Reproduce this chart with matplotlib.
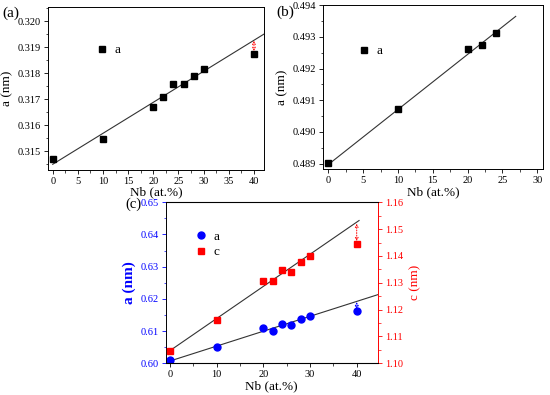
import matplotlib
matplotlib.use("Agg")
import matplotlib.pyplot as plt
from matplotlib.ticker import MultipleLocator, AutoMinorLocator, FormatStrFormatter

plt.rcParams['font.family'] = ['Liberation Serif', 'DejaVu Serif']

# ---- Panel (a) data ----
a_nb = [0, 10, 20, 22, 24, 26, 28, 30, 40]
a_lat = [0.31468, 0.31545, 0.31669, 0.31706, 0.31756, 0.31757, 0.31789, 0.31815, 0.31873]
a_fit_x = [0, 42]
a_fit_y = [0.31449, 0.31950]
a_arrow = (40, 0.31924, 0.31885)

# ---- Panel (b) data ----
b_nb = [0, 10, 20, 22, 24]
b_lat = [0.48902, 0.49074, 0.49263, 0.49274, 0.49313]
b_fit_x = [0, 26.9]
b_fit_y = [0.48897, 0.49365]

# ---- Panel (c) data ----
c_nb = [0, 10, 20, 22, 24, 26, 28, 30, 40]
c_a = [0.6009, 0.6050, 0.6109, 0.6101, 0.6123, 0.6120, 0.6137, 0.6148, 0.6161]
c_c = [1.1047, 1.1161, 1.1308, 1.1305, 1.1349, 1.1340, 1.1378, 1.1400, 1.1444]
c_fit_a_x = [0, 44.5]
c_fit_a_y = [0.6007, 0.6213]
c_fit_c_x = [0, 40.5]
c_fit_c_y = [1.1047, 1.1532]
c_arrow_a = (40, 0.6190, 0.6168)
c_arrow_c = (40, 1.1520, 1.1455)

BLUE = '#0000ff'
RED = '#ff0000'
TICK_FS = 7.5
LAB_FS = 9.5

fig = plt.figure(figsize=(5.5, 3.95), dpi=100)

def style(ax, xmaj):
    ax.tick_params(axis='both', which='major', direction='out', length=3, width=0.6,
                   labelsize=TICK_FS, pad=2)
    ax.tick_params(axis='both', which='minor', direction='out', length=1.8, width=0.5)
    ax.xaxis.set_major_locator(MultipleLocator(xmaj))
    ax.xaxis.set_minor_locator(AutoMinorLocator(2))
    ax.yaxis.set_minor_locator(AutoMinorLocator(2))
    for s in ax.spines.values():
        s.set_linewidth(0.7)

def darrow(ax, spec, color):
    ax.annotate('', xy=(spec[0], spec[2]), xytext=(spec[0], spec[1]),
                arrowprops=dict(arrowstyle='<->', color=color, lw=0.7, linestyle=':',
                                mutation_scale=5, shrinkA=0, shrinkB=0))

# (a)
ax1 = fig.add_axes([0.0867, 0.5696, 0.3933, 0.4119])
ax1.plot(a_fit_x, a_fit_y, color='#333333', lw=0.8)
ax1.plot(a_nb, a_lat, 's', color='black', ms=5, label='a')
darrow(ax1, a_arrow, RED)
ax1.set_xlim(-1, 42)
ax1.set_ylim(0.31427, 0.32053)
ax1.yaxis.set_major_locator(MultipleLocator(0.001))
ax1.yaxis.set_major_formatter(FormatStrFormatter('%.3f'))
style(ax1, 5)
ax1.set_xlabel('Nb (at.%)', fontsize=LAB_FS, labelpad=0.5)
ax1.set_ylabel('a (nm)', fontsize=LAB_FS, labelpad=3)
ax1.legend(loc='center left', bbox_to_anchor=(0.19, 0.737), frameon=False,
           fontsize=9.5, handlelength=1.0, handletextpad=0.45, borderpad=0, numpoints=1)

# (b)
ax2 = fig.add_axes([0.5878, 0.5714, 0.4, 0.4152])
ax2.plot(b_fit_x, b_fit_y, color='#333333', lw=0.8)
ax2.plot(b_nb, b_lat, 's', color='black', ms=5, label='a')
ax2.set_xlim(-0.72, 30.86)
ax2.set_ylim(0.48882, 0.494)
ax2.yaxis.set_major_locator(MultipleLocator(0.001))
ax2.yaxis.set_major_formatter(FormatStrFormatter('%.3f'))
style(ax2, 5)
ax2.set_xlabel('Nb (at.%)', fontsize=LAB_FS, labelpad=0.5)
ax2.set_ylabel('a (nm)', fontsize=LAB_FS, labelpad=3)
ax2.legend(loc='center left', bbox_to_anchor=(0.125, 0.72), frameon=False,
           fontsize=9.5, handlelength=1.0, handletextpad=0.45, borderpad=0, numpoints=1)

# (c)
ax3 = fig.add_axes([0.3013, 0.0803, 0.3855, 0.4076])
ax4 = ax3.twinx()
ax3.plot(c_fit_a_x, c_fit_a_y, color='#333333', lw=0.8)
ax4.plot(c_fit_c_x, c_fit_c_y, color='#333333', lw=0.8)
ha, = ax3.plot(c_nb, c_a, 'o', color=BLUE, ms=5, label='a')
hc, = ax4.plot(c_nb, c_c, 's', color=RED, ms=5, label='c')
darrow(ax3, c_arrow_a, BLUE)
darrow(ax4, c_arrow_c, RED)
ax3.set_xlim(-0.9, 44.5)
ax3.set_ylim(0.60, 0.65)
ax4.set_ylim(1.10, 1.16)
ax3.yaxis.set_major_locator(MultipleLocator(0.01))
ax3.yaxis.set_major_formatter(FormatStrFormatter('%.2f'))
ax4.yaxis.set_major_locator(MultipleLocator(0.01))
ax4.yaxis.set_major_formatter(FormatStrFormatter('%.2f'))
style(ax3, 10)
ax4.tick_params(axis='y', which='major', direction='out', length=3, width=0.6,
                labelsize=TICK_FS, pad=2, colors=RED)
ax4.tick_params(axis='y', which='minor', direction='out', length=1.8, width=0.5, colors=RED)
ax4.yaxis.set_minor_locator(AutoMinorLocator(2))
ax3.tick_params(axis='y', which='both', colors=BLUE)
ax4.spines['right'].set_color(RED)
ax4.spines['right'].set_linewidth(0.7)
ax4.spines['left'].set_visible(False)
ax3.spines['right'].set_visible(False)
ax3.set_xlabel('Nb (at.%)', fontsize=LAB_FS, labelpad=1)
ax3.set_ylabel('a (nm)', fontsize=11, color=BLUE, fontweight='bold', labelpad=3)
ax4.set_ylabel('c (nm)', fontsize=LAB_FS, color=RED, labelpad=5)
ax3.legend([ha, hc], ['a', 'c'], loc='upper left', bbox_to_anchor=(0.105, 0.865), frameon=False,
           fontsize=9.5, handlelength=1.0, handletextpad=0.45, borderpad=0, labelspacing=0.25,
           numpoints=1)

fig.text(0.005, 0.966, '(a)', fontsize=11, va='center', ha='left')
fig.text(0.502, 0.970, '(b)', fontsize=11, va='center', ha='left')
fig.text(0.228, 0.484, '(c)', fontsize=10.5, va='center', ha='left')

fig.savefig('out.png', dpi=100)
